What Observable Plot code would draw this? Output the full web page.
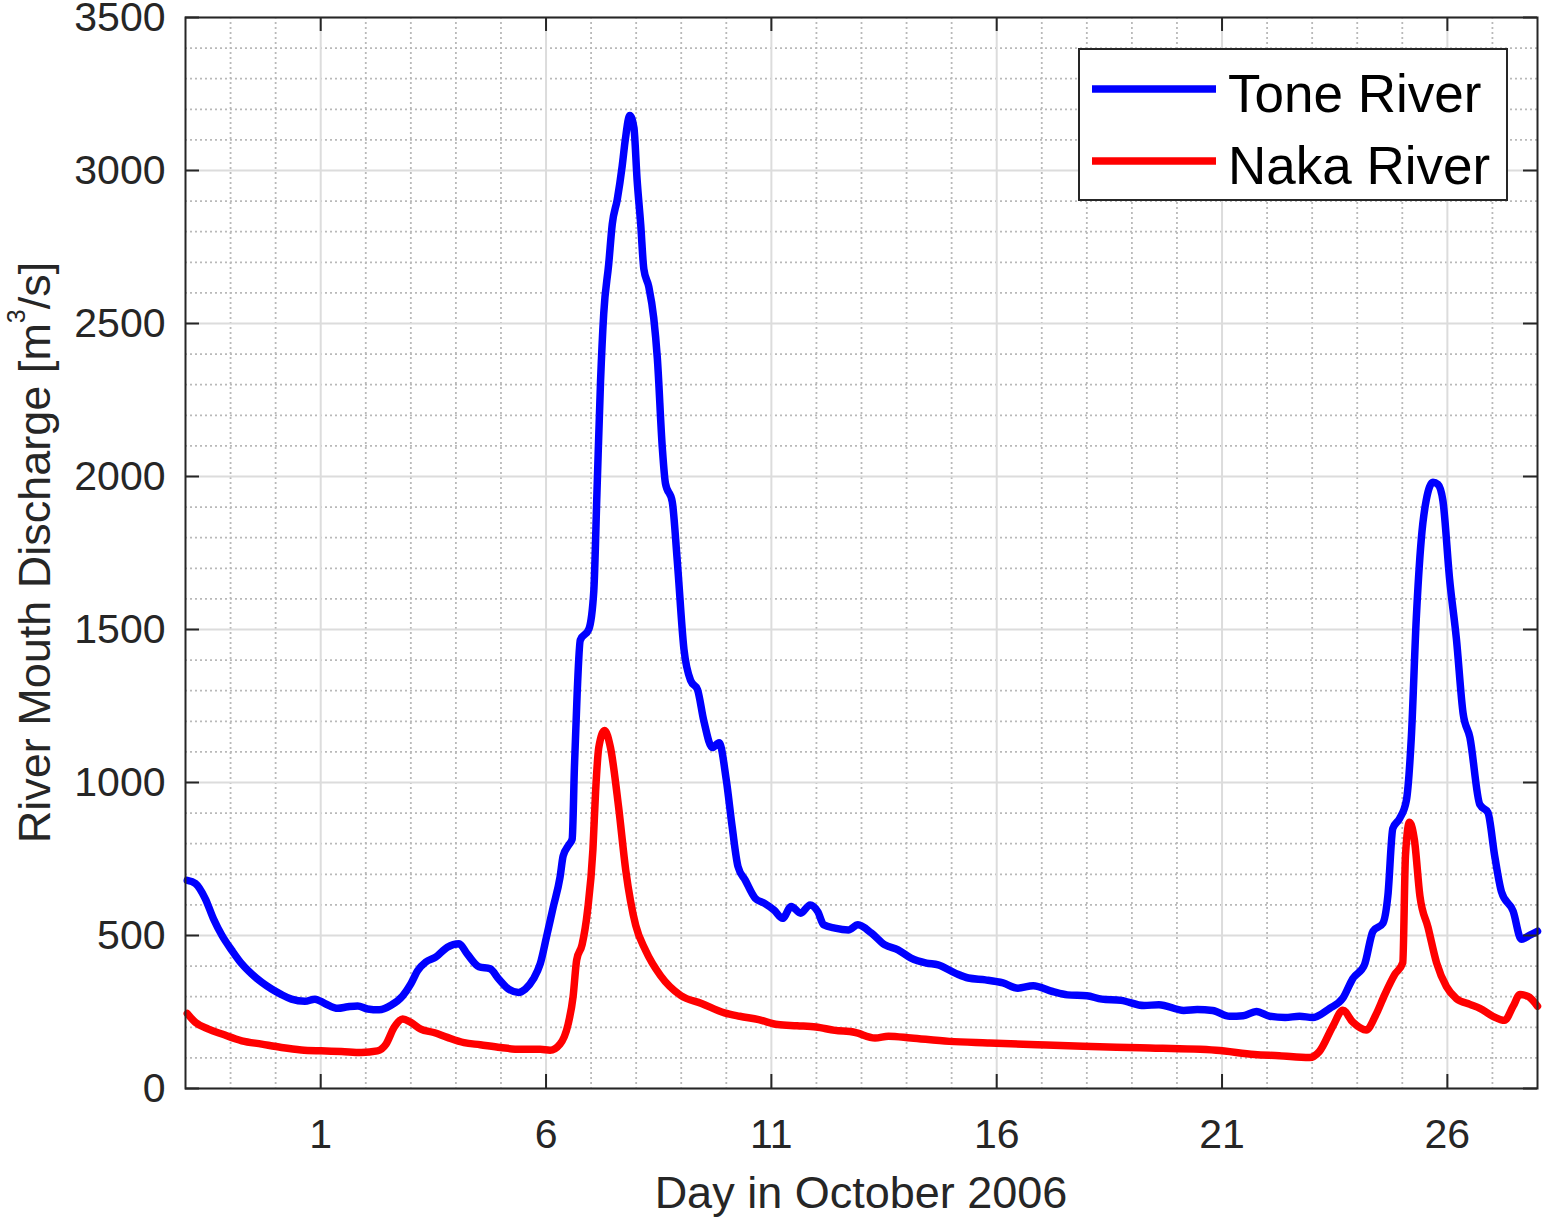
<!DOCTYPE html>
<html>
<head>
<meta charset="utf-8">
<script src="https://cdn.jsdelivr.net/npm/d3@7"></script>
<script src="https://cdn.jsdelivr.net/npm/@observablehq/plot@0.6"></script>
<style>
  html, body { margin: 0; padding: 0; background: #fff; overflow: hidden; }
  #chart svg { display: block; }
</style>
</head>
<body>
<div id="chart"></div>
<script>
// ---------------- data ----------------
const seriesNames = ["Tone River", "Naka River"];
const seriesColors = ["#0000ff", "#ff0000"];

const toneDay = [-1.96,-1.78,-1.56,-1.38,-1.19,-0.97,-0.75,-0.53,-0.31,-0.09,0.13,0.35,0.65,0.87,1.09,1.38,1.6,1.82,2.04,2.3,2.56,2.82,3.0,3.15,3.33,3.55,3.81,4.07,4.25,4.51,4.76,4.95,5.17,5.39,5.54,5.72,5.87,6.01,6.16,6.31,6.38,6.5,6.58,6.63,6.69,6.76,6.95,7.06,7.13,7.21,7.28,7.39,7.47,7.58,7.69,7.76,7.86,7.95,8.02,8.1,8.17,8.28,8.39,8.47,8.58,8.65,8.8,8.91,9.06,9.21,9.36,9.5,9.69,9.84,10.0,10.13,10.26,10.42,10.64,10.85,11.06,11.25,11.44,11.65,11.86,12.03,12.16,12.41,12.71,12.92,13.22,13.51,13.81,14.1,14.44,14.7,15.08,15.37,15.75,16.14,16.47,16.81,17.24,17.57,18.0,18.33,18.76,19.27,19.6,20.15,20.45,20.79,21.17,21.47,21.76,22.06,22.4,22.72,23.01,23.39,23.68,23.9,24.16,24.35,24.57,24.68,24.79,24.94,25.09,25.2,25.31,25.42,25.53,25.68,25.79,25.9,26.05,26.2,26.35,26.5,26.72,26.9,27.05,27.2,27.46,27.64,27.83,28.0];
const toneQ = [680,670,620,555,500,451,407,374,347,325,307,292,285,292,278,262,267,270,260,257,272,303,342,385,413,429,462,473,440,398,391,358,325,314,325,358,407,495,593,690,760,795,815,1050,1289,1465,1501,1626,1947,2313,2532,2693,2825,2905,3015,3102,3180,3140,2971,2825,2678,2620,2518,2386,2094,1977,1918,1728,1436,1333,1304,1202,1114,1130,1008,855,725,681,622,605,583,556,595,573,600,578,535,524,518,535,508,470,453,426,410,404,377,361,355,345,328,336,317,306,303,292,288,271,274,255,258,255,236,238,252,236,232,236,232,262,295,359,404,514,540,630,850,882,941,1147,1535,1793,1922,1981,1974,1922,1664,1470,1225,1147,928,902,760,643,579,488,501,514];

const nakaDay = [-1.96,-1.78,-1.49,-1.19,-0.75,-0.31,0.13,0.57,1.01,1.46,1.9,2.26,2.45,2.63,2.82,3.0,3.22,3.51,3.81,4.18,4.54,4.99,5.43,5.87,6.09,6.31,6.49,6.6,6.68,6.8,6.92,7.04,7.1,7.17,7.3,7.43,7.61,7.77,7.99,8.21,8.54,8.99,9.45,9.96,10.3,10.72,11.14,11.57,11.99,12.41,12.84,13.3,13.6,14.1,14.95,15.8,16.9,17.91,19.18,20.87,21.72,22.27,22.94,23.16,23.46,23.68,23.9,24.2,24.42,24.61,24.83,25.01,25.07,25.16,25.27,25.39,25.57,25.76,25.98,26.2,26.5,26.72,27.01,27.27,27.46,27.61,27.79,28.0];
const nakaQ = [245,216,194,178,156,145,134,126,123,121,118,123,145,200,227,216,194,183,167,150,143,134,128,128,125,145,210,300,420,470,580,780,971,1114,1170,1114,920,712,533,451,369,304,278,247,236,225,209,205,201,190,184,165,171,165,154,149,143,138,133,125,111,107,101,121,204,256,217,191,243,307,372,411,760,870,811,630,527,411,333,294,275,262,236,223,269,307,301,269];

const xMajorTicks = [1, 6, 11, 16, 21, 26];
const xMinorTicks = [-1, 0, 2, 3, 4, 5, 7, 8, 9, 10, 12, 13, 14, 15, 17, 18, 19, 20, 22, 23, 24, 25, 27];
const yMajorTicks = [0, 500, 1000, 1500, 2000, 2500, 3000, 3500];
const yMinorTicks = [100, 200, 300, 400, 600, 700, 800, 900, 1100, 1200, 1300, 1400, 1600, 1700, 1800, 1900, 2100, 2200, 2300, 2400, 2600, 2700, 2800, 2900, 3100, 3200, 3300, 3400];
const xDomain = [-2, 28];
const yDomain = [0, 3500];
const xLabel = "Day in October 2006";
const yLabelParts = ["River Mouth Discharge [m", "3", "/s]"];

// ---------------- layout ----------------
const W = 1544, H = 1221;
const mL = 185, mR = 7, mT = 17, mB = 133;
const innerW = W - mL - mR, innerH = H - mT - mB;
const tickLen = 14;
const axisColor = "#262626";
const fontFamily = "'Liberation Sans', Arial, Helvetica, sans-serif";

const rows = [
  ...toneDay.map((d, i) => ({day: d, q: toneQ[i], series: seriesNames[0]})),
  ...nakaDay.map((d, i) => ({day: d, q: nakaQ[i], series: seriesNames[1]}))
];

const chart = Plot.plot({
  width: W,
  height: H,
  marginLeft: mL,
  marginRight: mR,
  marginTop: mT,
  marginBottom: mB,
  style: {fontFamily, fontSize: "41px", color: axisColor, background: "#fff"},
  x: {domain: xDomain, ticks: xMajorTicks, tickFormat: d => String(d), tickSize: 0, tickPadding: 30, label: null},
  y: {domain: yDomain, ticks: yMajorTicks, tickFormat: d => String(d), tickSize: 0, tickPadding: 20, label: null},
  color: {domain: seriesNames, range: seriesColors},
  marks: [
    Plot.ruleX(xMinorTicks, {stroke: "#b9b9b9", strokeWidth: 1.8, strokeDasharray: "2,3"}),
    Plot.ruleY(yMinorTicks, {stroke: "#b9b9b9", strokeWidth: 1.8, strokeDasharray: "2,3"}),
    Plot.ruleX(xMajorTicks, {stroke: "#dcdcdc", strokeWidth: 2}),
    Plot.ruleY(yMajorTicks, {stroke: "#dcdcdc", strokeWidth: 2}),
    Plot.line(rows, {x: "day", y: "q", z: "series", stroke: "series", strokeWidth: 7.5, curve: "monotone-x"}),
    Plot.tickX(xMajorTicks, {x: d => d, insetTop: innerH - tickLen, stroke: axisColor, strokeWidth: 2}),
    Plot.tickX(xMajorTicks, {x: d => d, insetBottom: innerH - tickLen, stroke: axisColor, strokeWidth: 2}),
    Plot.tickY(yMajorTicks, {y: d => d, insetRight: innerW - tickLen, stroke: axisColor, strokeWidth: 2}),
    Plot.tickY(yMajorTicks, {y: d => d, insetLeft: innerW - tickLen, stroke: axisColor, strokeWidth: 2}),
    Plot.frame({stroke: axisColor, strokeWidth: 2})
  ]
});

document.getElementById("chart").appendChild(chart);

// ---------------- labels & legend ----------------
const svg = d3.select(chart);

svg.append("text")
  .attr("x", mL + innerW / 2)
  .attr("y", 1208)
  .attr("text-anchor", "middle")
  .attr("fill", axisColor)
  .style("font-family", fontFamily)
  .style("font-size", "45px")
  .text(xLabel);

const yl = svg.append("text")
  .attr("transform", `translate(50,${mT + innerH / 2}) rotate(-90)`)
  .attr("text-anchor", "middle")
  .attr("fill", axisColor)
  .style("font-family", fontFamily)
  .style("font-size", "45px");
yl.append("tspan").text(yLabelParts[0]);
yl.append("tspan").attr("dy", -25).style("font-size", "25px").text(yLabelParts[1]);
yl.append("tspan").attr("dy", 25).text(yLabelParts[2]);

const lg = svg.append("g").attr("text-anchor", "start");
lg.append("rect")
  .attr("x", 1079).attr("y", 49).attr("width", 428).attr("height", 151)
  .attr("fill", "#fff").attr("stroke", axisColor).attr("stroke-width", 2);
seriesNames.forEach((name, i) => {
  const cy = 89 + i * 72;
  lg.append("line")
    .attr("x1", 1092).attr("x2", 1216).attr("y1", cy).attr("y2", cy)
    .attr("stroke", seriesColors[i]).attr("stroke-width", 7.5);
  lg.append("text")
    .attr("x", 1228).attr("y", cy + 23)
    .attr("text-anchor", "start")
    .attr("fill", "#000")
    .style("font-family", fontFamily)
    .style("font-size", "53px")
    .text(name);
});
</script>
</body>
</html>
